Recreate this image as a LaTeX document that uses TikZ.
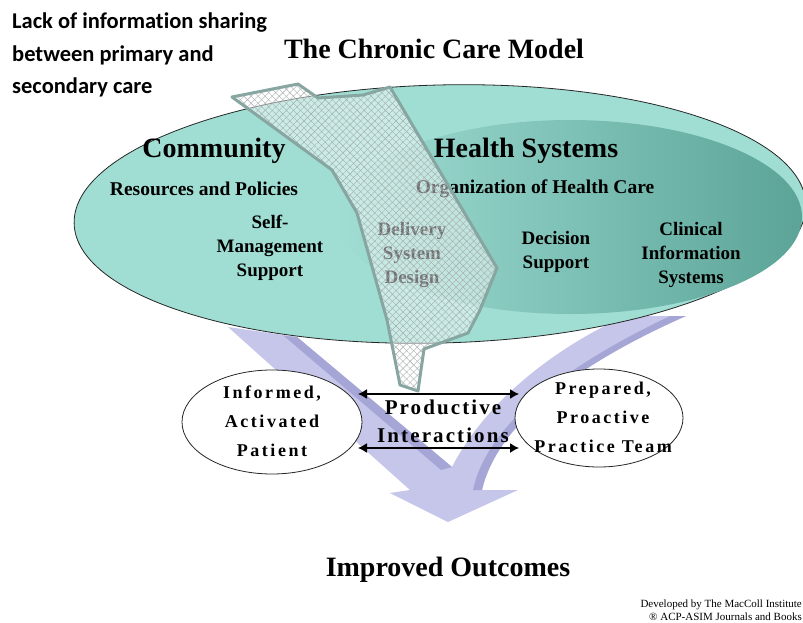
\documentclass[tikz,border=0pt]{standalone}
\usepackage{fontspec}
\setmainfont{Liberation Serif}
\newfontfamily\calib{Carlito}[Ligatures=NoCommon]
\newfontfamily\spacedserif{Liberation Serif}[LetterSpace=14]
\newfontfamily\prodserif{Liberation Serif}[LetterSpace=10]
\usetikzlibrary{patterns.meta,arrows.meta,shapes.geometric}
\definecolor{tealL}{RGB}{160,222,212}
\definecolor{tealD}{RGB}{92,164,152}
\definecolor{hatchedge}{RGB}{135,166,162}
\definecolor{hatchline}{RGB}{165,170,170}
\definecolor{lavL}{RGB}{198,198,234}
\definecolor{lavD}{RGB}{166,166,214}
\tikzset{
  bigtitle/.style={font=\fontsize{28}{30}\selectfont\bfseries, inner sep=0},
  subtitle/.style={font=\fontsize{19.5}{22}\selectfont\bfseries, inner sep=0},
  itemtxt/.style={font=\fontsize{19}{24}\selectfont\bfseries, align=center, inner sep=0},
  ovaltxt/.style={font=\spacedserif\fontsize{18}{29}\selectfont\bfseries, align=center, inner sep=0},
  notetxt/.style={font=\calib\fontsize{22.5}{32}\selectfont\bfseries, anchor=west, inner sep=0},
  smalloval/.style={draw=black!85, line width=0.8pt, fill=white, ellipse, inner sep=0},
  twoway/.style={{Latex[length=9pt,width=10pt]}-{Latex[length=9pt,width=10pt]}, line width=1.3pt, black},
}
\def\hatchpath{(232,97) -- (298,84) -- (318,98) -- (363,95) -- (390,87) -- (497,268) -- (480,310)
  -- (468,333) -- (424,349) -- (418,391) -- (400,385) -- (387,320) -- (357,213)
  -- (332,170) -- cycle}
\begin{document}
\begin{tikzpicture}[x=1pt,y=-1pt]
\useasboundingbox (0,0) rectangle (803,623);
\fill[white] (0,0) rectangle (803,623);

% big merging arrow
\fill[lavL] (228,327) -- (297,337) -- (452,467)
  .. controls (476,420) and (530,360) .. (625,316) -- (686,316)
  .. controls (586,360) and (498,420) .. (482,490) -- (518,490) -- (448,522)
  -- (390,493) -- (410,490) -- cycle;
\fill[lavD] (284,336) -- (297,337) -- (452,467) -- (441,470) -- cycle;
\fill[lavD] (686,316) .. controls (586,360) and (498,420) .. (482,490)
  -- (473,490) .. controls (488,420) and (574,362) .. (670,316) -- cycle;

% big ellipse and inner ellipse
\draw[fill=tealL, draw=black!85, line width=0.8pt, rotate around={1.5:(440,214)}]
  (440,214) ellipse [x radius=366, y radius=129];
\shade[left color=tealL, right color=tealD] (570,217) ellipse [x radius=232, y radius=97];

% texts inside the ellipse
\node[bigtitle] (community) at (214,151) {Community};
\node[subtitle] (resources) at (204,189) {Resources and Policies};
\node[itemtxt] (selfmgmt) at (270,248) {Self-\\Management\\Support};
\node[bigtitle] (health) at (526,151) {Health Systems};
\node[subtitle] (organization) at (535,189) {Organization of Health Care};
\node[itemtxt] (delivery) at (412,255) {Delivery\\System\\Design};
\node[itemtxt] (decision) at (556,252) {Decision\\Support};
\node[itemtxt] (clinical) at (691,255) {Clinical\\Information\\Systems};

% hatched region
\path[fill=white, fill opacity=0.45] \hatchpath;
\path[pattern={Lines[angle=45,distance=5pt,line width=0.4pt]}, pattern color=hatchline] \hatchpath;
\path[pattern={Lines[angle=-45,distance=5pt,line width=0.4pt]}, pattern color=hatchline] \hatchpath;
\draw[hatchedge, line width=3pt, line join=round] \hatchpath;

% small ellipses
\node[smalloval, minimum width=180pt, minimum height=104pt] (patient) at (272,422) {};
\node[smalloval, minimum width=168pt, minimum height=98pt] (team) at (599,418) {};
\node[ovaltxt] (patientT) at (272,421) {Informed,\\Activated\\Patient};
\node[ovaltxt] (teamT) at (603,417) {Prepared,\\Proactive\\Practice Team};
\node[font=\prodserif\fontsize{21}{28}\selectfont\bfseries, align=center, inner sep=0]
  (prod) at (443,421) {Productive\\Interactions};

% interaction arrows
\coordinate (pu) at (358,394);
\coordinate (tu) at (519,394);
\coordinate (pl) at (358,448);
\coordinate (tl) at (519,448);
\draw[twoway] (pu) -- (tu);
\draw[twoway] (pl) -- (tl);

% titles
\node[bigtitle] (title) at (434,49) {The Chronic Care Model};
\node[bigtitle] (outcomes) at (448,570) {Improved Outcomes};
\node[font=\fontsize{11}{13}\selectfont, align=right, anchor=east, inner sep=0] (credit)
  at (802,610) {Developed by The MacColl Institute\\\textregistered{} ACP-ASIM Journals and Books};

% note
\node[notetxt] (note1) at (12,23) {Lack of information sharing};
\node[notetxt] (note2) at (12,55) {between primary and};
\node[notetxt] (note3) at (12,87) {secondary care};
\end{tikzpicture}
\end{document}
